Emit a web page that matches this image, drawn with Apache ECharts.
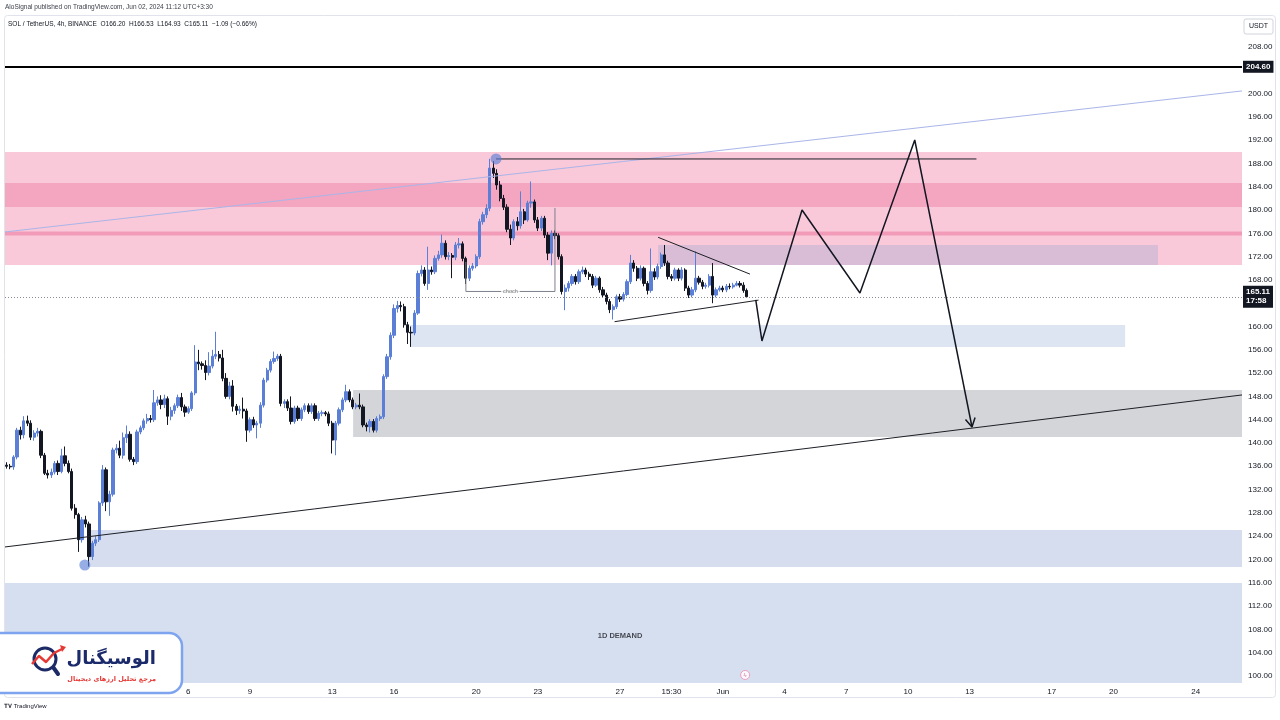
<!DOCTYPE html>
<html>
<head>
<meta charset="utf-8">
<script src="https://cdn.jsdelivr.net/npm/echarts@6/dist/echarts.min.js"></script>
<style>
  html, body { margin: 0; padding: 0; background: #fff; }
  #chart { width: 1280px; height: 720px; }
</style>
</head>
<body>
<div id="chart"></div>
<script>
// 4h slots, first candle Apr 27 07:30 (UTC+3:30), chart runs into empty future slots
const SLOT_COUNT = 361;
const slotStart = Date.UTC(2024, 3, 27, 7, 30);
const categories = Array.from({ length: SLOT_COUNT }, (_, i) =>
  new Date(slotStart + i * 4 * 3600 * 1000).toISOString().slice(0, 16).replace('T', ' '));

const tickIdx = [53, 71, 95, 113, 137, 155, 179, 194, 209, 227, 245, 263, 281, 305, 323, 347];
const tickText = ['6', '9', '13', '16', '20', '23', '27', '15:30', 'Jun', '4', '7', '10', '13', '17', '20', '24'];
const priceTicks = [100, 104, 108, 112, 116, 120, 124, 128, 132, 136, 140, 144, 148, 152, 156, 160,
  164, 168, 172, 176, 180, 184, 188, 192, 196, 200, 204, 208];

// [open, close, low, high]
const candles = [
  [136.2,136.0,135.6,136.7],[136.0,135.9,135.5,136.4],[135.9,137.6,135.4,137.9],[137.6,142.2,137.2,142.6],
  [142.2,141.4,140.6,142.8],[141.4,143.8,140.8,144.6],[143.8,143.4,142.9,144.7],[143.4,141.0,140.5,143.9],
  [141.0,141.7,140.4,142.2],[141.7,142.0,141.1,142.6],[142.0,137.9,137.4,142.3],[137.9,134.8,134.5,138.3],
  [134.8,134.5,133.9,135.4],[134.5,135.0,134.0,135.6],[135.0,136.5,134.6,136.9],[136.5,135.1,134.5,137.0],
  [135.1,137.8,134.8,139.0],[137.8,136.5,136.0,139.4],[136.5,135.1,134.8,137.0],[135.1,128.8,128.4,135.6],
  [128.8,127.7,127.0,129.5],[127.7,123.4,121.3,128.0],[123.4,126.8,122.9,127.3],[126.8,126.1,125.5,127.5],
  [126.1,120.5,118.8,126.5],[120.5,122.8,119.9,123.2],[122.8,123.4,122.3,124.0],[123.4,129.7,123.0,130.0],
  [129.7,135.4,129.2,136.2],[135.4,129.9,128.3,135.8],[129.9,131.2,127.5,131.8],[131.2,138.8,130.8,139.2],
  [138.8,139.1,138.2,139.8],[139.1,137.9,137.4,140.4],[137.9,140.9,137.3,141.8],[140.9,141.5,140.0,143.0],
  [141.5,137.2,136.8,142.0],[137.2,136.8,136.2,137.6],[136.8,141.9,136.4,142.3],[141.9,142.6,141.5,143.0],
  [142.6,143.8,142.2,144.2],[143.8,144.2,143.3,145.0],[144.2,144.0,143.5,144.8],[144.0,146.9,143.6,149.1],
  [146.9,147.4,146.4,148.0],[147.4,146.6,145.8,148.2],[146.6,147.6,146.0,148.3],[147.6,144.6,143.1,148.0],
  [144.6,145.6,143.9,146.2],[145.6,146.4,145.0,146.8],[146.4,147.8,146.0,148.3],[147.8,146.2,145.5,148.6],
  [146.2,145.3,144.5,146.6],[145.3,145.9,145.0,146.3],[145.9,148.6,145.5,148.9],[148.6,153.9,148.2,156.8],
  [153.9,153.6,152.5,156.0],[153.6,153.3,152.6,154.0],[153.3,152.1,150.8,154.2],[152.1,153.2,151.6,155.6],
  [153.2,154.9,152.8,156.0],[154.9,155.2,154.4,159.1],[155.2,154.6,154.0,155.8],[154.6,151.1,150.6,156.0],
  [151.1,148.0,147.6,152.0],[148.0,149.8,147.5,150.5],[149.8,146.3,145.4,150.8],[146.3,145.6,144.8,146.7],
  [145.6,145.8,145.0,146.4],[145.8,145.5,144.2,147.8],[145.5,142.2,140.2,145.9],[142.2,144.0,141.8,144.4],
  [144.0,143.1,142.6,144.5],[143.1,143.4,140.8,143.8],[143.4,146.5,142.6,147.0],[146.5,150.8,146.1,151.2],
  [150.8,152.5,150.4,152.9],[152.5,154.0,152.1,154.4],[154.0,154.5,153.6,155.7],[154.5,154.9,154.1,155.3],
  [154.9,146.8,146.3,155.3],[146.8,147.1,146.0,147.5],[147.1,146.0,145.5,147.5],[146.0,143.7,143.2,148.0],
  [143.7,146.0,143.3,146.4],[146.0,144.2,143.8,146.4],[144.2,145.7,143.8,146.1],[145.7,146.4,145.3,146.8],
  [146.4,145.4,145.0,146.8],[145.4,146.4,145.0,146.8],[146.4,144.2,143.8,146.8],[144.2,145.1,143.8,145.5],
  [145.1,145.2,144.6,145.6],[145.2,145.0,144.6,145.5],[145.0,143.4,142.9,145.4],[143.4,140.5,138.2,143.8],
  [140.5,143.4,137.9,143.8],[143.4,145.7,143.0,146.1],[145.7,147.4,145.3,147.8],[147.4,148.8,147.0,150.0],
  [148.8,147.4,147.0,149.2],[147.4,146.2,145.8,147.8],[146.2,146.5,145.8,146.9],[146.5,146.2,145.8,148.5],
  [146.2,143.1,142.7,146.6],[143.1,142.8,142.0,143.5],[142.8,143.7,141.8,144.1],[143.7,142.2,141.8,144.1],
  [142.2,144.2,141.8,144.6],[144.2,144.5,143.8,144.9],[144.5,151.4,144.1,151.8],[151.4,154.8,151.0,155.3],
  [154.8,158.5,154.3,159.0],[158.5,163.1,158.0,163.8],[163.1,163.6,162.4,164.4],[163.6,163.4,162.6,164.3],
  [163.4,160.3,159.8,163.9],[160.3,159.0,157.0,160.8],[159.0,158.9,156.5,160.0],[158.9,162.3,158.5,162.8],
  [162.3,169.1,162.0,169.6],[169.1,169.7,168.6,170.5],[169.7,167.4,167.0,170.2],[167.4,169.7,166.3,173.7],
  [169.7,169.4,168.9,170.3],[169.4,171.7,169.0,172.2],[171.7,172.3,171.3,173.0],[172.3,174.3,171.8,175.8],
  [174.3,172.0,171.5,174.8],[172.0,172.2,171.4,172.8],[172.2,171.9,168.3,172.6],[171.9,174.0,171.4,174.5],
  [174.0,174.2,173.4,175.2],[174.2,171.7,171.2,174.6],[171.7,168.3,167.3,172.0],[168.3,170.0,167.8,170.5],
  [170.0,170.4,169.6,170.9],[170.4,172.0,170.0,172.4],[172.0,178.0,171.6,178.5],[178.0,179.2,177.5,179.7],
  [179.2,180.3,178.6,181.0],[180.3,187.2,179.8,188.8],[187.2,186.3,185.5,188.4],[186.3,184.3,183.5,187.0],
  [184.3,182.0,181.5,185.0],[182.0,180.5,180.0,182.6],[180.5,176.7,176.2,181.0],[176.7,175.2,174.0,177.5],
  [175.2,178.0,174.8,178.4],[178.0,177.3,176.5,178.8],[177.3,179.7,176.8,183.2],[179.7,178.3,177.6,180.2],
  [178.3,181.2,178.0,181.6],[181.2,181.4,180.4,184.9],[181.4,178.3,177.8,181.8],[178.3,176.9,176.4,178.8],
  [176.9,178.6,176.4,179.0],[178.6,175.7,175.2,179.0],[175.7,172.6,171.4,176.2],[172.6,176.0,170.5,176.5],
  [176.0,175.6,175.0,176.5],[175.6,172.0,171.5,176.0],[172.0,166.0,165.5,172.4],[166.0,166.6,162.8,167.2],
  [166.6,167.4,166.0,167.8],[167.4,168.6,167.0,169.0],[168.6,167.7,167.2,169.0],[167.7,169.4,167.3,169.8],
  [169.4,169.7,169.0,170.3],[169.7,169.0,168.5,170.1],[169.0,168.6,168.0,169.4],[168.6,167.1,166.6,169.0],
  [167.1,168.3,166.8,168.7],[168.3,166.3,165.8,168.6],[166.3,165.4,164.9,166.8],[165.4,164.3,163.8,165.8],
  [164.3,162.9,162.3,164.7],[162.9,163.4,161.2,163.8],[163.4,165.1,163.0,165.5],[165.1,164.7,164.2,165.6],
  [164.7,165.5,164.3,165.9],[165.5,167.7,165.2,168.1],[167.7,170.9,167.3,172.3],[170.9,170.0,169.4,171.4],
  [170.0,168.3,167.8,170.4],[168.3,170.0,167.9,170.5],[170.0,167.4,166.9,170.3],[167.4,166.2,165.5,167.8],
  [166.2,169.4,165.8,173.4],[169.4,168.5,168.0,170.0],[168.5,170.3,168.1,170.8],[170.3,172.3,169.9,172.7],
  [172.3,170.9,170.4,174.0],[170.9,168.6,168.1,171.3],[168.6,168.3,167.8,169.0],[168.3,169.7,167.9,170.1],
  [169.7,168.3,167.8,170.0],[168.3,169.7,167.9,170.2],[169.7,166.6,166.1,170.0],[166.6,165.4,164.9,167.0],
  [165.4,166.3,165.0,166.8],[166.3,168.3,165.9,172.9],[168.3,167.6,167.2,168.7],[167.6,166.9,166.4,168.0],
  [166.9,167.1,166.5,167.5],[167.1,168.6,166.7,169.0],[168.6,165.4,164.0,170.9],[165.4,166.3,165.0,166.7],
  [166.3,166.6,166.0,167.0],[166.6,166.3,165.9,167.0],[166.3,166.9,165.9,167.3],[166.9,166.8,166.4,167.4],
  [166.8,167.1,166.5,167.5],[167.1,167.4,166.9,167.8],[167.4,167.1,166.7,167.8],[167.1,166.2,165.8,167.6],
  [166.20,165.11,164.93,166.53]
];

const levelLine = 204.60;
const lastPrice = 165.11;
const countdown = '17:58';

// zones: [slotFrom, slotTo, priceLow, priceHigh]
const pinkZone = [-0.5, 360.5, 170.57, 189.97];
const pinkBand = [-0.5, 360.5, 180.53, 184.65];
const pinkLine = [-0.5, 360.5, 175.65, 176.30];
const purpleZone = [190.1, 336.0, 170.57, 174.00];
const lightBlueZone = [117.7, 326.4, 156.49, 160.27];
const grayZone = [101.1, 360.5, 141.04, 149.11];
const blueZone = [23.7, 360.5, 118.71, 125.07];
const demandZone = [-0.5, 360.5, 98.79, 115.97];

// drawings: [slot, price]
const trendLine = [[-0.5, 122.15], [360.5, 148.25]];
const fanLine = [[-0.5, 176.24], [360.5, 200.45]];
const peakLine = [[142.8, 188.77], [283.0, 188.77]];
const chochLine = [[134.0, 171.1], [134.0, 166.02], [160.0, 166.02], [160.0, 180.36]];
const triUpper = [[190.1, 175.32], [216.9, 169.0]];
const triLower = [[177.4, 160.83], [219.4, 164.53]];
const projection = [[218.6, 164.56], [220.4, 157.52], [232.1, 180.0], [249.0, 165.76], [265.0, 192.03], [281.7, 142.75]];
const arrowHead = [[279.8, 144.04], [281.7, 142.75], [282.6, 144.38]];
const pivots = [[142.8, 188.77], [22.8, 119.05]];
const chochLabel = [[147.0, 166.02]];
const demandLabel = [[179.0, 106.87]];
const eventMark = [[215.5, 100.17]];

const FONT = '"Liberation Sans", Arial, sans-serif';
const UP = '#5b7fd6';
const DOWN = '#131722';

function zone(box, color, z) {
  return {
    type: 'custom', xAxisIndex: 1, z: z, silent: true, data: [box],
    encode: { x: [0, 1], y: [2, 3] },
    renderItem: (params, api) => {
      const a = api.coord([api.value(0), api.value(3)]);
      const b = api.coord([api.value(1), api.value(2)]);
      return { type: 'rect', shape: { x: a[0], y: a[1], width: b[0] - a[0], height: b[1] - a[1] }, style: { fill: color } };
    }
  };
}

function drawing(points, color, width, z) {
  return {
    type: 'line', xAxisIndex: 1, data: points, symbol: 'none', silent: true, z: z || 5,
    lineStyle: { color: color, width: width }, animation: false
  };
}

const LOGO_Z = 100;
const chart = echarts.init(document.getElementById('chart'));

chart.setOption({
  animation: false,
  backgroundColor: '#ffffff',
  grid: { left: 5, right: 38, top: 15, bottom: 37 },
  xAxis: [
    {
      type: 'category', data: categories, boundaryGap: true,
      axisLine: { show: false }, axisTick: { show: false }, splitLine: { show: false },
      axisLabel: {
        interval: (idx) => tickIdx.includes(idx),
        formatter: (val, idx) => tickText[tickIdx.indexOf(idx)],
        fontSize: 8, color: '#131722', fontFamily: FONT, margin: 5
      }
    },
    { type: 'value', min: -0.5, max: SLOT_COUNT - 0.5, show: false }
  ],
  yAxis: {
    type: 'value', position: 'right', min: 98.79, max: 213.49,
    axisLine: { show: false }, axisTick: { show: false }, splitLine: { show: false },
    axisLabel: {
      customValues: priceTicks, formatter: (v) => v.toFixed(2),
      fontSize: 8, color: '#131722', fontFamily: FONT, margin: 6
    }
  },
  series: [
    zone(pinkZone, '#f9c9d9', 1),
    zone(pinkBand, '#f4a6c0', 1),
    zone(pinkLine, '#f29bb9', 1),
    zone(purpleZone, '#d9bdd6', 1),
    zone(lightBlueZone, '#dde4f2', 1),
    zone(grayZone, '#d4d5d9', 1),
    zone(blueZone, '#d6ddef', 1),
    zone(demandZone, '#d6dff0', 1),
    {
      type: 'candlestick', data: candles, barWidth: '80%', z: 3,
      itemStyle: { color: UP, color0: DOWN, borderColor: UP, borderColor0: DOWN, borderWidth: 1 },
      markLine: {
        symbol: 'none', silent: true, animation: false,
        data: [
          {
            yAxis: levelLine,
            lineStyle: { color: '#000', width: 2, type: 'solid' },
            label: { formatter: levelLine.toFixed(2) }
          },
          {
            yAxis: lastPrice,
            lineStyle: { color: '#8a8d96', width: 1, type: [1, 2] },
            label: { formatter: lastPrice.toFixed(2) + '\n' + countdown, lineHeight: 9 }
          }
        ],
        label: {
          position: 'end', distance: 1, color: '#fff', backgroundColor: '#131722',
          fontSize: 8, fontWeight: 'bold', fontFamily: FONT, padding: [2, 3, 2, 3]
        }
      }
    },
    drawing(trendLine, '#1d1f26', 1),
    drawing(fanLine, '#aab5e8', 1),
    drawing(peakLine, '#1d1f26', 1),
    drawing(chochLine, '#7d808a', 1),
    drawing(triUpper, '#1d1f26', 1),
    drawing(triLower, '#1d1f26', 1),
    drawing(projection, '#131722', 1.5),
    drawing(arrowHead, '#131722', 1.5),
    {
      type: 'scatter', xAxisIndex: 1, data: pivots, symbolSize: 11, z: 6, silent: true,
      itemStyle: { color: 'rgba(91,127,214,0.8)' }
    },
    {
      type: 'scatter', xAxisIndex: 1, data: chochLabel, symbolSize: 0, z: 7, silent: true,
      label: { show: true, position: 'inside', formatter: 'choch', fontSize: 5.5, color: '#555',
        backgroundColor: '#fff', padding: [0, 2], fontFamily: FONT }
    },
    {
      type: 'scatter', xAxisIndex: 1, data: demandLabel, symbolSize: 0, z: 7, silent: true,
      label: { show: true, position: 'inside', formatter: '1D DEMAND', fontSize: 7.5, fontWeight: 'bold',
        color: '#1d1f26', fontFamily: FONT }
    },
    {
      type: 'scatter', xAxisIndex: 1, data: eventMark, symbolSize: 9, z: 7, silent: true,
      itemStyle: { color: '#fff', borderColor: '#f08bb0', borderWidth: 1 },
      label: { show: true, position: 'inside', formatter: 'ϟ', fontSize: 6, color: '#e0608f' }
    }
  ],
  graphic: [
    {
      type: 'rect', z: 0, silent: true,
      shape: { x: 4.5, y: 15.5, width: 1271, height: 682, r: 3 },
      style: { fill: 'none', stroke: '#e0e3eb', lineWidth: 1 }
    },
    {
      type: 'text', x: 5, y: 4, silent: true,
      style: { text: 'AloSignal published on TradingView.com, Jun 02, 2024 11:12 UTC+3:30', font: '6.5px ' + FONT, fill: '#3c3f48' }
    },
    {
      type: 'text', x: 8, y: 21, silent: true, z: 10,
      style: { text: 'SOL / TetherUS, 4h, BINANCE  O166.20  H166.53  L164.93  C165.11  \u22121.09 (\u22120.66%)', font: '6.5px ' + FONT, fill: '#131722' }
    },
    {
      type: 'rect', silent: true, z: 10,
      shape: { x: 1244, y: 19, width: 29, height: 15, r: 2 },
      style: { fill: '#fff', stroke: '#d1d4dc', lineWidth: 1 }
    },
    {
      type: 'text', x: 1258.5, y: 26.5, silent: true, z: 11,
      style: { text: 'USDT', font: '7px ' + FONT, fill: '#131722', align: 'center', verticalAlign: 'middle' }
    },
    {
      type: 'text', x: 4, y: 703, silent: true,
      style: { text: '\u{1D413}\u{1D415} TradingView', font: '6px ' + FONT, fill: '#131722' }
    },
    { type: 'rect', z: LOGO_Z, silent: true, shape: { x: -14, y: 633, width: 196, height: 60, r: 13 },
      style: { fill: '#ffffff', stroke: '#7ea4ef', lineWidth: 2.5 } },
    { type: 'line', z: LOGO_Z + 1, silent: true, shape: { x1: 53, y1: 667, x2: 58, y2: 674 },
      style: { stroke: '#1c2a66', lineWidth: 4, lineCap: 'round' } },
    { type: 'circle', z: LOGO_Z + 2, silent: true, shape: { cx: 45, cy: 659, r: 11 },
      style: { fill: '#fff', stroke: '#1c2a66', lineWidth: 3 } },
    { type: 'polyline', z: LOGO_Z + 3, silent: true, shape: { points: [[32, 664], [39, 656], [46, 662], [54, 653], [62, 649]] },
      style: { stroke: '#e53935', lineWidth: 2.5, lineJoin: 'round' } },
    { type: 'polygon', z: LOGO_Z + 3, silent: true, shape: { points: [[60, 645], [66, 647], [62, 652]] },
      style: { fill: '#e53935' } },
    { type: 'text', z: LOGO_Z + 3, silent: true, x: 156, y: 659,
      style: { text: '\u0627\u0644\u0648\u0633\u06CC\u06AF\u0646\u0627\u0644',
        font: 'bold 18px "DejaVu Sans", sans-serif', fill: '#1b2a6b', align: 'right', verticalAlign: 'middle' } },
    { type: 'text', z: LOGO_Z + 3, silent: true, x: 156, y: 679,
      style: { text: '\u0645\u0631\u062C\u0639 \u062A\u062D\u0644\u06CC\u0644 \u0627\u0631\u0632\u0647\u0627\u06CC \u062F\u06CC\u062C\u06CC\u062A\u0627\u0644',
        font: 'bold 6.5px "DejaVu Sans", sans-serif', fill: '#e53935', align: 'right', verticalAlign: 'middle' } }
  ]
});
</script>
</body>
</html>
